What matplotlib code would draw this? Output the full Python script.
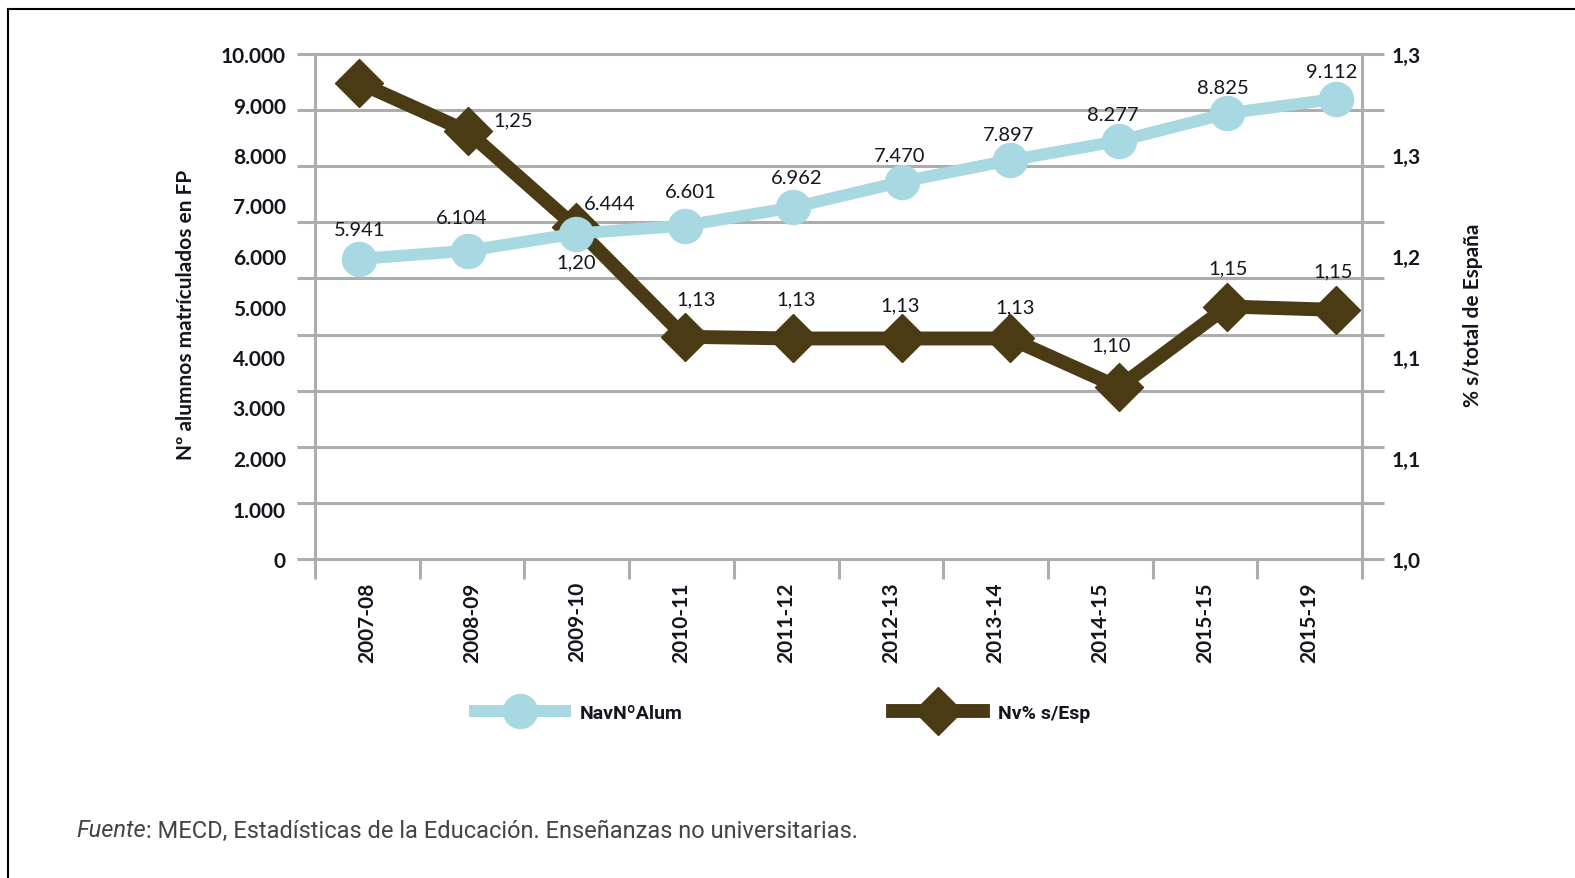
import numpy as np
import matplotlib
matplotlib.use("Agg")
import matplotlib.pyplot as plt
from matplotlib.lines import Line2D

# data
years = ['2007-08', '2008-09', '2009-10', '2010-11', '2011-12',
         '2012-13', '2013-14', '2014-15', '2015-15', '2015-19']
alumnos = [5941, 6104, 6444, 6601, 6962, 7470, 7897, 8277, 8825, 9112]
pct_esp = [1.283, 1.254, 1.197, 1.132, 1.131, 1.131, 1.131, 1.102, 1.150, 1.148]
left_ticks = list(range(0, 10001, 1000))
right_ticks = [1.0, 1.06, 1.12, 1.18, 1.24, 1.30]
right_tick_labels = ['1,0', '1,1', '1,1', '1,2', '1,3', '1,3']

# label offsets in pixels (style only)
off_alum = [(1, 29), (-6, 33), (34, 30), (6, 34), (4, 30),
            (-2, 26), (-2, 26), (-6, 27), (-4, 26), (-4, 27)]
off_pct = [None, (46, 12), (0, -34), (12, 38), (3, 40),
           (-2, 34), (5, 32), (-8, 42), (1, 39), (-3, 39)]

BLUE = '#A8D8E2'
BROWN = '#4A3B14'
GRID = '#ADADAD'
TXT = '#15151f'
FONT = ['Lato', 'DejaVu Sans']
NARROW = ['Liberation Sans Narrow', 'Roboto', 'DejaVu Sans']

plt.rcParams['font.family'] = FONT
plt.rcParams['text.color'] = TXT

W, H = 1575, 879
fig = plt.figure(figsize=(W / 100, H / 100), dpi=100)
pos = [315 / W, 319 / H, 1047 / W, 505 / H]

# category axis + left scale + grid
ax = fig.add_axes(pos)
ax.set_xlim(-0.5, len(years) - 0.5)
ax.set_ylim(0, 10000)
ax.set_xticks(range(len(years)))
ax.set_xticklabels(years, rotation=90, fontsize=15, fontweight='bold', color=TXT)
ax.set_xticks(np.arange(-0.5, len(years)), minor=True)
ax.tick_params(axis='x', which='major', length=0, pad=16)
ax.tick_params(axis='x', which='minor', length=14.5, width=2.2, color=GRID, direction='out')
ax.set_yticks(left_ticks)
ax.set_yticklabels([f"{v:,}".replace(',', '.') for v in left_ticks],
                   fontsize=15, fontweight='bold', color=TXT)
ax.tick_params(axis='y', length=0, pad=21)
for s in ('top', 'bottom'):
    ax.spines[s].set_visible(False)
for s in ('left', 'right'):
    ax.spines[s].set_color(GRID)
    ax.spines[s].set_linewidth(2.2)
ax.hlines(np.linspace(0, 10000, 10), -18 / 1047, 1 + 22 / 1047,
          transform=ax.get_yaxis_transform(), colors=GRID, lw=2.2,
          clip_on=False, zorder=0.5)
ax.set_ylabel('Nº alumnos matrículados en FP', fontsize=15, fontweight='bold', color=TXT)
ax.yaxis.set_label_coords(-0.114, 0.485)

# line layers
x = np.arange(len(years))
axL = fig.add_axes(pos, frameon=False)
axL.set_xlim(-0.405, 9.241)
axL.set_ylim(0, 10000)
axR = axL.twinx()
axR.set_ylim(1.0, 1.3)
axL.set_xticks([])
axL.set_yticks([])
axR.set_yticks(right_ticks)
axR.set_yticklabels(right_tick_labels, fontsize=15, fontweight='bold', color=TXT)
axR.tick_params(axis='y', length=0, pad=21)
for s in axR.spines.values():
    s.set_visible(False)
axR.set_ylabel('% s/total de España', fontsize=15, fontweight='bold', color=TXT)
axR.yaxis.set_label_coords(1.0965, 0.485)
axR.set_zorder(1)
axL.set_zorder(2)

lb, = axL.plot(x, alumnos, color=BLUE, lw=8.6, marker='o', ms=24.5,
               solid_joinstyle='round', label='NavNºAlum')
lr, = axR.plot(x, pct_esp, color=BROWN, lw=10, marker='D', ms=24.5,
               solid_joinstyle='round', label='Nv% s/Esp')

for i, v in enumerate(alumnos):
    axL.annotate(f"{v:,}".replace(',', '.'), (x[i], v), xytext=off_alum[i],
                 textcoords='offset pixels', ha='center', va='center',
                 fontsize=14.5, color=TXT)
for i, v in enumerate(pct_esp):
    if off_pct[i] is None:
        continue
    axR.annotate(f"{v:.2f}".replace('.', ','), (x[i], v), xytext=off_pct[i],
                 textcoords='offset pixels', ha='center', va='center',
                 fontsize=14.5, color=TXT)

fig.legend(handles=[lb, lr], loc='center', bbox_to_anchor=(0.497, 0.1875),
           ncol=2, frameon=False, handlelength=4.6, handletextpad=0.8,
           columnspacing=10.8, numpoints=1,
           prop={'family': ['Roboto', 'DejaVu Sans'], 'weight': 'bold', 'size': 14})

# source note
t1 = fig.text(76 / W, 1 - 831 / H, 'Fuente', style='italic', va='center',
              family=NARROW, fontsize=17, color='#444444')
fig.canvas.draw()
bb = t1.get_window_extent()
fig.text(bb.x1 / W, 1 - 831 / H,
         ': MECD, Estadísticas de la Educación. Enseñanzas no universitarias.',
         va='center', family=NARROW, fontsize=17, color='#444444')

# frame lines (top and left)
fig.add_artist(Line2D([8 / W, 1], [1 - 10 / H] * 2, color='black', lw=1.5,
                      transform=fig.transFigure))
fig.add_artist(Line2D([8 / W, 8 / W], [0, 1 - 10 / H], color='black', lw=1.5,
                      transform=fig.transFigure))

fig.savefig('out.png', dpi=100)
